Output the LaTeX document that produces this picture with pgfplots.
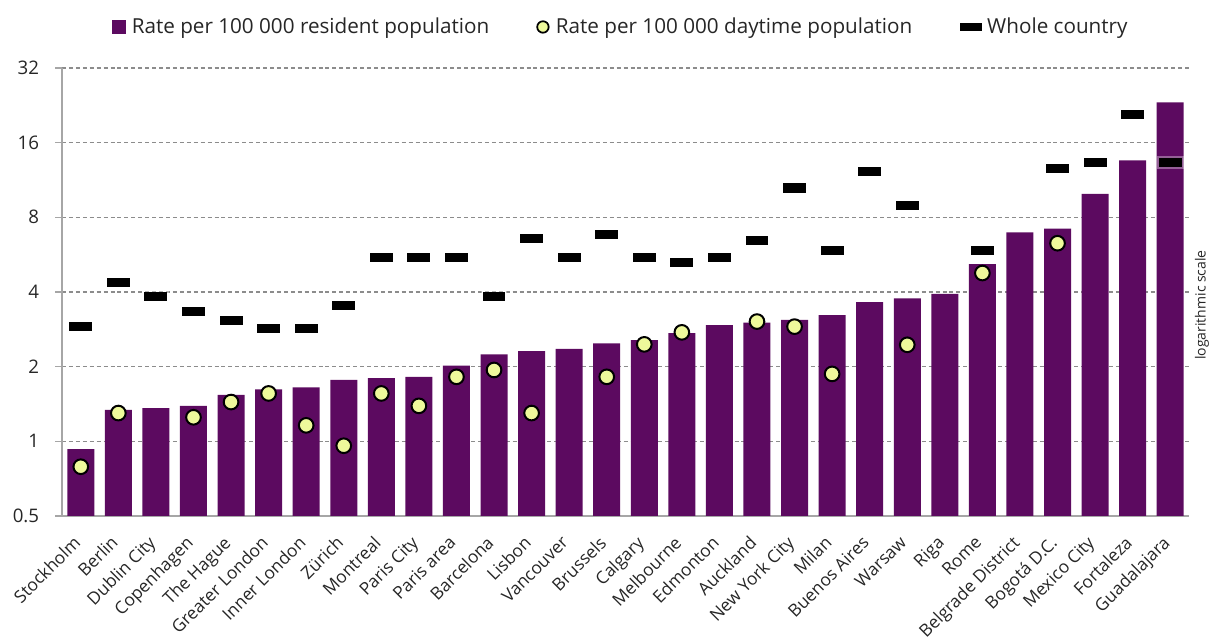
\documentclass[border=0pt]{standalone}
\usepackage{fontspec}
\setmainfont{Open Sans}
\usepackage{pgfplots}
\pgfplotsset{compat=1.18}

\definecolor{barpurple}{RGB}{92,10,96}
\definecolor{dayfill}{RGB}{238,249,155}
\definecolor{gridgray}{RGB}{140,140,140}
\definecolor{axisgray}{RGB}{166,166,166}
\definecolor{txt}{RGB}{38,38,38}

% short rounded bar used for the whole-country rate
\pgfdeclareplotmark{countrybar}{%
  \pgfsetcornersarced{\pgfpoint{2.2pt}{2.2pt}}%
  \pgfpathmoveto{\pgfpoint{-8.6pt}{-3.4pt}}%
  \pgfpathlineto{\pgfpoint{8.6pt}{-3.4pt}}%
  \pgfpathlineto{\pgfpoint{8.6pt}{3.4pt}}%
  \pgfpathlineto{\pgfpoint{-8.6pt}{3.4pt}}%
  \pgfpathclose
  \pgfusepathqfill}
% smaller version for the legend
\pgfdeclareplotmark{countrykey}{%
  \pgfsetcornersarced{\pgfpoint{2pt}{2pt}}%
  \pgfpathmoveto{\pgfpoint{-8pt}{-3pt}}%
  \pgfpathlineto{\pgfpoint{8pt}{-3pt}}%
  \pgfpathlineto{\pgfpoint{8pt}{3pt}}%
  \pgfpathlineto{\pgfpoint{-8pt}{3pt}}%
  \pgfpathclose
  \pgfusepathqfill}
% soft white halo drawn below it
\pgfdeclareplotmark{countryhalo}{%
  \pgfsetcornersarced{\pgfpoint{3pt}{3pt}}%
  \pgfpathmoveto{\pgfpoint{-10pt}{-4.8pt}}%
  \pgfpathlineto{\pgfpoint{10pt}{-4.8pt}}%
  \pgfpathlineto{\pgfpoint{10pt}{4.8pt}}%
  \pgfpathlineto{\pgfpoint{-10pt}{4.8pt}}%
  \pgfpathclose
  \pgfusepathqfill}

\begin{document}
\begin{tikzpicture}[font=\fontsize{14}{17}\selectfont, text=txt]
\begin{axis}[
  at={(46.5pt,93.75pt)}, anchor=south west,
  width=845.25pt, height=336pt, scale only axis,
  clip mode=individual,
  xmin=-0.5, xmax=29.5,
  ymode=log, log basis y=2, ymin=0.5, ymax=32, log origin=infty,
  xtick={0,...,29},
  xticklabels={Stockholm, Berlin, Dublin City, Copenhagen, The Hague,
    Greater London, Inner London, Zürich, Montreal, Paris City, Paris area,
    Barcelona, Lisbon, Vancouver, Brussels, Calgary, Melbourne, Edmonton,
    Auckland, New York City, Milan, Buenos Aires, Warsaw, Riga, Rome,
    Belgrade District, Bogotá D.C., Mexico City, Fortaleza, Guadalajara},
  xtick style={draw=none},
  ytick={0.5,1,2,4,8,16,32},
  yticklabels={0.5,1,2,4,8,16,32},
  axis x line*=bottom, axis y line*=left,
  axis line style={axisgray, line width=1.4pt},
  ymajorgrids,
  grid style={gridgray, dash pattern=on 3pt off 2.2pt, line width=0.9pt},
  tick align=outside, major tick length=5pt,
  ytick style={axisgray, line width=1.2pt},
  yticklabel style={font=\fontsize{14}{17}\selectfont, text=txt, xshift=-10pt, inner sep=2pt},
  xticklabel style={font=\fontsize{13}{16}\selectfont, text=txt,
    xshift=-6.5pt, yshift=-7.5pt, rotate=45, anchor=north east, inner sep=1pt},
  legend columns=3,
  legend style={at={(0.496,1.0915)}, anchor=center,
    draw=none, fill=none, font=\fontsize{15.5}{18}\selectfont, text=txt,
    /tikz/every even column/.append style={column sep=34pt}},
]

% rate per 100 000 resident population
\addplot[ybar, bar width=20.25pt, bar shift=0pt, fill=barpurple, draw=none,
  legend image code/.code={\fill[barpurple] (0pt,-5pt) rectangle (10.5pt,5.5pt);
      \path (13pt,0pt);}]
coordinates {
  (0,0.93) (1,1.34) (2,1.36) (3,1.39) (4,1.54) (5,1.62) (6,1.65) (7,1.77)
  (8,1.80) (9,1.82) (10,2.02) (11,2.24) (12,2.31) (13,2.36) (14,2.48)
  (15,2.56) (16,2.73) (17,2.94) (18,3.01) (19,3.09) (20,3.23) (21,3.64)
  (22,3.77) (23,3.93) (24,5.18) (25,6.95) (26,7.21) (27,9.94) (28,13.58)
  (29,23.25)
};
\addlegendentry{Rate per 100 000 resident population}

% rate per 100 000 daytime population
\addplot[only marks, mark=*, mark size=5.5pt,
  mark options={draw=black, fill=dayfill, line width=1.5pt},
  legend image code/.code={\draw[mark=*, mark size=4.3pt,
      mark options={draw=black, fill=dayfill, line width=1.3pt}]
      plot coordinates {(5pt,0pt)}; \path (12.5pt,0pt);}]
coordinates {
  (0,0.79) (1,1.30) (3,1.25) (4,1.44) (5,1.56) (6,1.16) (7,0.96) (8,1.56)
  (9,1.39) (10,1.82) (11,1.94) (12,1.30) (14,1.82) (15,2.46) (16,2.75)
  (18,3.04) (19,2.90) (20,1.87) (22,2.45) (24,4.77) (26,6.29)
};
\addlegendentry{Rate per 100 000 daytime population}

% whole country rate
\pgfplotstableread{
x  y
0  2.91
1  4.37
2  3.84
3  3.34
4  3.07
5  2.85
6  2.85
7  3.53
8  5.49
9  5.49
10 5.49
11 3.84
12 6.57
13 5.49
14 6.82
15 5.49
16 5.26
17 5.49
18 6.45
19 10.5
20 5.88
21 12.23
22 8.93
24 5.88
26 12.57
27 13.3
28 20.8
29 13.3
}\countrytable
\addplot[only marks, mark=countryhalo, mark options={fill=white, fill opacity=0.35},
  forget plot] table {\countrytable};
\addplot[only marks, mark=countrybar, mark options={fill=black},
  legend image code/.code={\draw[mark=countrykey, mark options={fill=black}]
      plot coordinates {(8pt,0pt)}; \path (18pt,0pt);}]
  table {\countrytable};
\addlegendentry{Whole country}

\node[rotate=90, font=\fontsize{10.5}{12}\selectfont, text=txt]
  at ([xshift=9.75pt]rel axis cs:1,0.471) {logarithmic scale};
\end{axis}
\pgfresetboundingbox
\useasboundingbox (0,0) rectangle (909pt,480.75pt);
\end{tikzpicture}
\end{document}
